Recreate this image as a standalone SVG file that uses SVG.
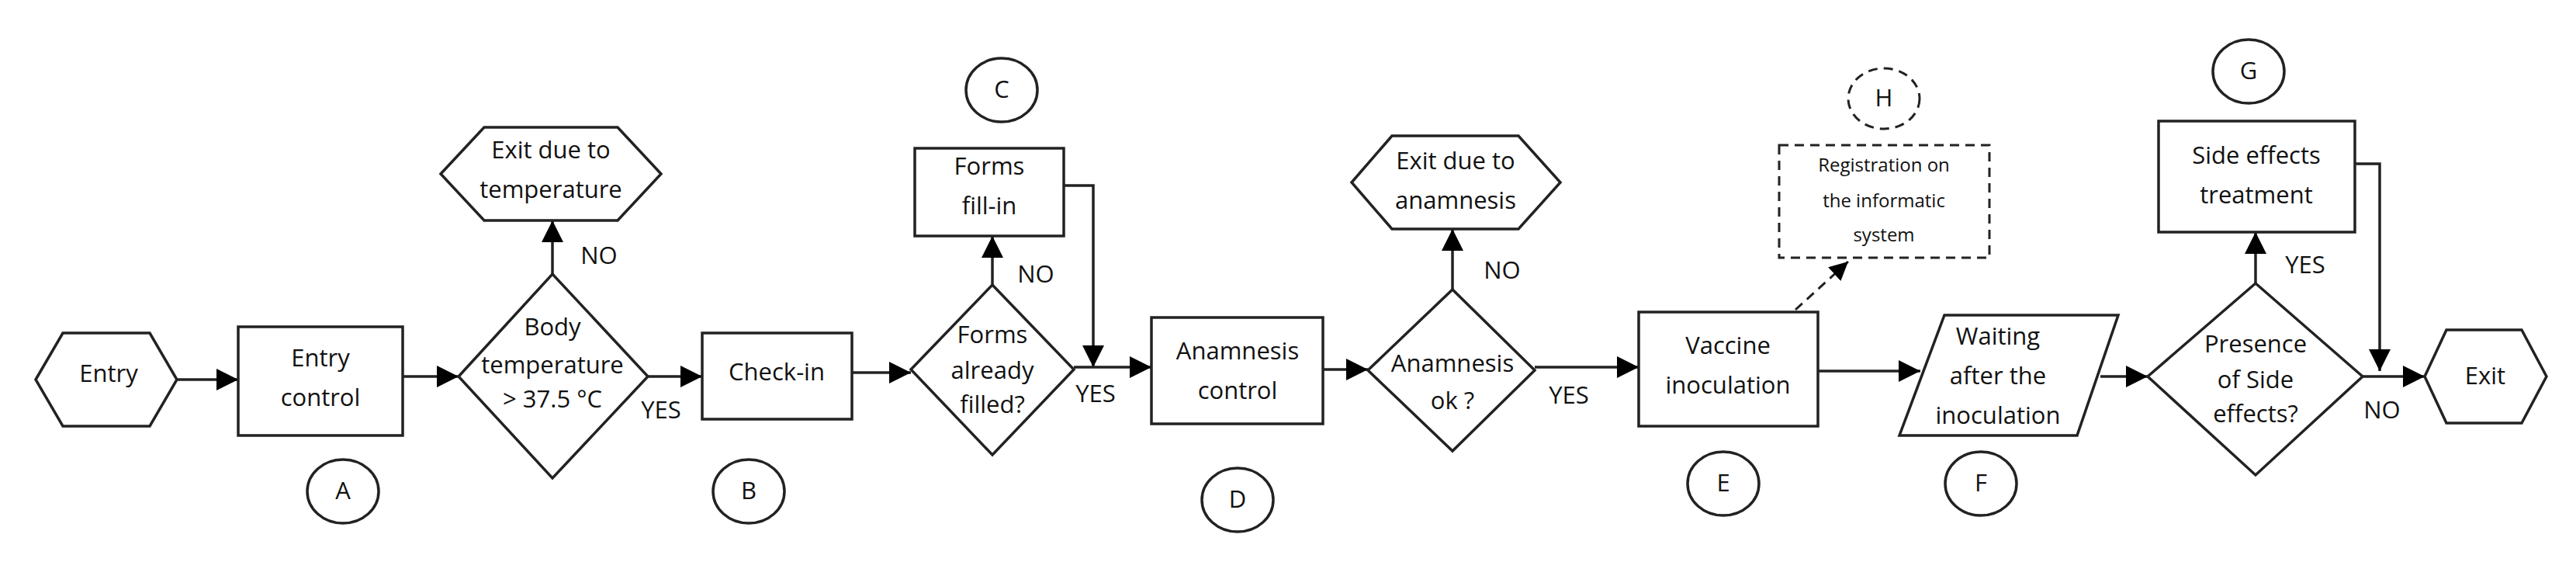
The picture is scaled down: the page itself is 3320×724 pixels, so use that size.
<svg xmlns="http://www.w3.org/2000/svg" width="3320" height="724" viewBox="0 0 3320 724">
<defs>
<marker id="ah" viewBox="0 0 10 10" refX="10" refY="5" markerWidth="7" markerHeight="7" markerUnits="userSpaceOnUse" orient="auto" style="overflow:visible"><path d="M0,0 L10,5 L0,10 z" fill="#000"/></marker>
<marker id="a" viewBox="0 0 10 10" refX="10" refY="5" markerWidth="8" markerHeight="8" orient="auto"><path d="M0,0 L10,5 L0,10 z" fill="#000"/></marker>
</defs>
<style>
.s{fill:#fff;stroke:#222;stroke-width:3.5}
.d{fill:none;stroke:#222;stroke-width:3;stroke-dasharray:12 8}
.t{font-family:"Open Sans","Liberation Sans",sans-serif;font-size:31px;fill:#111;text-anchor:middle;dominant-baseline:middle}
.sm{font-size:24px}
.c{fill:none;stroke:#222;stroke-width:3.5;marker-end:url(#a)}
</style>
<rect width="3320" height="724" fill="#fff"/>
<g id="connectors">
<path class="c" d="M228,489 H307"/>
<path class="c" d="M519,485 H591"/>
<path class="c" d="M712,353 V284"/>
<path class="c" d="M835,485 H905"/>
<path class="c" d="M1098,480 H1174"/>
<path class="c" d="M1279,367 V304"/>
<path class="c" d="M1371,239 H1409 V473"/>
<path class="c" d="M1384,473 H1484"/>
<path class="c" d="M1705,476 H1763"/>
<path class="c" d="M1872,373 V295"/>
<path class="c" d="M1978,473 H2112"/>
<path d="M2314,399 L2382,337" fill="none" stroke="#222" stroke-width="3" stroke-dasharray="12 8" marker-end="url(#a)"/>
<path class="c" d="M2343,478 H2475"/>
<path class="c" d="M2707,485 H2768"/>
<path class="c" d="M2907,365 V299"/>
<path class="c" d="M3035,211 H3067 V478"/>
<path class="c" d="M3045,485 H3125"/>
<text class="t" x="772" y="332">NO</text>
<text class="t" x="852" y="531">YES</text>
<text class="t" x="1335" y="356">NO</text>
<text class="t" x="1412" y="510">YES</text>
<text class="t" x="1936" y="351">NO</text>
<text class="t" x="2022" y="512">YES</text>
<text class="t" x="2971" y="344">YES</text>
<text class="t" x="3070" y="531">NO</text>
</g>
<g id="entry"><polygon class="s" points="46,489 81,429 193,429 228,489 193,549 81,549"/><text class="t" x="140" y="484">Entry</text></g>
<g id="entry-control"><rect class="s" x="307" y="421" width="212" height="140"/><text class="t" x="413" y="464">Entry</text><text class="t" x="413" y="515">control</text></g>
<g id="A"><ellipse class="s" cx="442" cy="633" rx="46" ry="41"/><text class="t" x="442" y="635">A</text></g>
<g id="body-temp"><polygon class="s" points="591,485 712,353 835,485 712,616"/><text class="t" x="712" y="424">Body</text><text class="t" x="712" y="473">temperature</text><text class="t" x="712" y="517">&gt; 37.5 °C</text></g>
<g id="exit-temp"><polygon class="s" points="568,224 624,164 796,164 852,224 796,284 624,284"/><text class="t" x="710" y="196">Exit due to</text><text class="t" x="710" y="247">temperature</text></g>
<g id="check-in"><rect class="s" x="905" y="429" width="193" height="111"/><text class="t" x="1001" y="482">Check-in</text></g>
<g id="B"><ellipse class="s" cx="965" cy="633" rx="46" ry="41"/><text class="t" x="965" y="635">B</text></g>
<g id="forms-filled"><polygon class="s" points="1174,476 1279,367 1384,476 1279,586"/><text class="t" x="1279" y="434">Forms</text><text class="t" x="1279" y="480">already</text><text class="t" x="1279" y="524">filled?</text></g>
<g id="forms-fill-in"><rect class="s" x="1179" y="191" width="192" height="113"/><text class="t" x="1275" y="217">Forms</text><text class="t" x="1275" y="268">fill-in</text></g>
<g id="C"><ellipse class="s" cx="1291" cy="116" rx="46" ry="41"/><text class="t" x="1291" y="118">C</text></g>
<g id="anamnesis-control"><rect class="s" x="1484" y="409" width="221" height="137"/><text class="t" x="1595" y="455">Anamnesis</text><text class="t" x="1595" y="506">control</text></g>
<g id="D"><ellipse class="s" cx="1595" cy="644" rx="46" ry="41"/><text class="t" x="1595" y="646">D</text></g>
<g id="anamnesis-ok"><polygon class="s" points="1763,477 1872,373 1978,477 1872,581"/><text class="t" x="1872" y="471">Anamnesis</text><text class="t" x="1872" y="519">ok ?</text></g>
<g id="exit-anamnesis"><polygon class="s" points="1742,235 1794,175 1957,175 2011,235 1957,295 1794,295"/><text class="t" x="1876" y="210">Exit due to</text><text class="t" x="1876" y="261">anamnesis</text></g>
<g id="vaccine"><rect class="s" x="2112" y="402" width="231" height="147"/><text class="t" x="2227" y="448">Vaccine</text><text class="t" x="2227" y="499">inoculation</text></g>
<g id="E"><ellipse class="s" cx="2221" cy="623" rx="46" ry="41"/><text class="t" x="2221" y="625">E</text></g>
<g id="registration"><rect class="d" x="2293" y="187" width="271" height="145"/><text class="t sm" x="2428" y="215">Registration on</text><text class="t sm" x="2428" y="261">the informatic</text><text class="t sm" x="2428" y="305">system</text></g>
<g id="H"><ellipse class="d" cx="2428" cy="127" rx="46" ry="39"/><text class="t" x="2428" y="129">H</text></g>
<g id="waiting"><polygon class="s" points="2506,406 2730,406 2677,561 2448,561"/><text class="t" x="2575" y="436">Waiting</text><text class="t" x="2575" y="487">after the</text><text class="t" x="2575" y="538">inoculation</text></g>
<g id="F"><ellipse class="s" cx="2553" cy="623" rx="46" ry="41"/><text class="t" x="2553" y="625">F</text></g>
<g id="side-effects"><polygon class="s" points="2768,485 2907,365 3045,485 2907,612"/><text class="t" x="2907" y="446">Presence</text><text class="t" x="2907" y="492">of Side</text><text class="t" x="2907" y="536">effects?</text></g>
<g id="treatment"><rect class="s" x="2782" y="156" width="253" height="143"/><text class="t" x="2908" y="203">Side effects</text><text class="t" x="2908" y="254">treatment</text></g>
<g id="G"><ellipse class="s" cx="2898" cy="92" rx="46" ry="41"/><text class="t" x="2898" y="94">G</text></g>
<g id="exit"><polygon class="s" points="3125,485 3153,425 3250,425 3282,485 3250,545 3153,545"/><text class="t" x="3203" y="487">Exit</text></g>
</svg>
